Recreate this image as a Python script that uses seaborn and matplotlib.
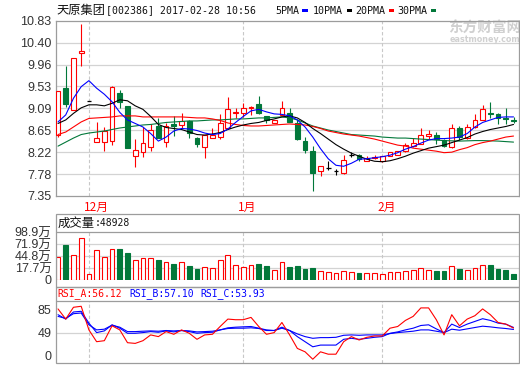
import matplotlib.pyplot as plt
import matplotlib.transforms as mtransforms
from matplotlib.lines import Line2D
from matplotlib.patches import Rectangle
import numpy as np
import seaborn as sns

sns.set_theme(style="white")
plt.rcParams['font.family'] = ['Liberation Sans', 'Noto Sans CJK SC', 'DejaVu Sans']

W, H = 520, 365

# daily candles (price, yuan)
opens = [8.56, 9.50, 9.05, 10.18, 9.24, 8.42, 8.42, 8.44, 9.39, 9.14,
         8.14, 8.22, 8.32, 8.74, 8.42, 8.78, 8.76, 8.84, 8.51, 8.32,
         8.51, 8.52, 8.69, 8.99, 9.00, 9.09, 9.17, 8.94, 8.80, 8.96,
         9.00, 8.79, 8.44, 8.24, 7.84, 7.91, 7.84, 7.81, 8.17, 8.16,
         8.04, 8.10, 8.04, 8.14, 8.17, 8.24, 8.34, 8.39, 8.55, 8.57,
         8.46, 8.32, 8.70, 8.50, 8.72, 8.86, 9.00, 8.97, 8.90, 8.86]
highs = [9.44, 9.94, 10.08, 10.76, 9.24, 8.81, 8.72, 9.53, 9.46, 9.14,
         8.49, 8.72, 8.77, 8.90, 8.79, 8.94, 9.00, 8.85, 8.52, 8.57,
         8.70, 8.98, 9.32, 9.10, 9.19, 9.13, 9.34, 8.94, 8.86, 9.24,
         9.10, 8.86, 8.52, 8.34, 7.95, 8.04, 7.89, 8.17, 8.22, 8.19,
         8.14, 8.17, 8.14, 8.22, 8.25, 8.40, 8.50, 8.69, 8.66, 8.62,
         8.49, 8.77, 8.74, 8.77, 8.97, 9.16, 9.22, 9.00, 9.09, 8.92]
lows = [8.52, 9.12, 9.05, 9.94, 9.24, 8.42, 8.24, 8.36, 9.09, 8.30,
        7.92, 8.12, 8.24, 8.50, 8.32, 8.54, 8.69, 8.51, 8.32, 8.10,
        8.50, 8.48, 8.68, 8.89, 8.92, 8.96, 8.97, 8.80, 8.80, 8.95,
        8.82, 8.46, 8.21, 7.44, 7.74, 7.86, 7.77, 7.79, 8.12, 8.04,
        8.04, 8.08, 8.03, 8.14, 8.17, 8.22, 8.33, 8.38, 8.48, 8.39,
        8.32, 8.31, 8.46, 8.49, 8.70, 8.85, 8.90, 8.77, 8.77, 8.79]
closes = [9.44, 9.17, 10.08, 10.22, 9.24, 8.51, 8.64, 9.52, 9.22, 8.30,
          8.26, 8.40, 8.66, 8.51, 8.74, 8.74, 8.84, 8.60, 8.39, 8.56,
          8.56, 8.79, 9.07, 9.02, 9.09, 9.12, 9.00, 8.86, 8.86, 9.09,
          8.82, 8.49, 8.27, 7.81, 7.94, 7.91, 7.84, 8.06, 8.17, 8.09,
          8.11, 8.13, 8.14, 8.22, 8.24, 8.36, 8.41, 8.57, 8.59, 8.48,
          8.34, 8.70, 8.52, 8.72, 8.86, 9.08, 8.98, 8.90, 8.87, 8.84]

# moving averages as drawn on the chart
ma5 = [8.82, 8.96, 9.29, 9.52, 9.64, 9.49, 9.37, 9.22, 9.01, 8.86,
       8.79, 8.72, 8.59, 8.44, 8.52, 8.64, 8.69, 8.68, 8.65, 8.60,
       8.57, 8.59, 8.68, 8.81, 8.93, 9.04, 9.07, 9.02, 8.98, 8.97,
       8.94, 8.86, 8.72, 8.52, 8.29, 8.09, 7.96, 7.94, 8.00, 8.08,
       8.09, 8.11, 8.13, 8.16, 8.21, 8.28, 8.33, 8.40, 8.46, 8.49,
       8.49, 8.50, 8.52, 8.59, 8.72, 8.81, 8.86, 8.91, 8.92, 8.92]
ma10 = [8.79, 8.86, 8.99, 9.10, 9.16, 9.16, 9.14, 9.19, 9.26, 9.24,
        9.14, 9.07, 8.93, 8.77, 8.71, 8.69, 8.67, 8.62, 8.57, 8.56,
        8.58, 8.61, 8.67, 8.72, 8.76, 8.79, 8.81, 8.85, 8.88, 8.92,
        8.94, 8.90, 8.81, 8.69, 8.59, 8.48, 8.37, 8.28, 8.20, 8.14,
        8.08, 8.04, 8.03, 8.05, 8.09, 8.14, 8.20, 8.25, 8.30, 8.33,
        8.36, 8.41, 8.46, 8.51, 8.58, 8.63, 8.67, 8.70, 8.73, 8.77]
ma20 = [8.57, 8.62, 8.72, 8.82, 8.89, 8.90, 8.91, 8.92, 8.94, 8.94,
        8.94, 8.92, 8.92, 8.92, 8.92, 8.92, 8.92, 8.91, 8.90, 8.90,
        8.88, 8.85, 8.80, 8.77, 8.75, 8.74, 8.74, 8.75, 8.76, 8.77,
        8.78, 8.77, 8.76, 8.73, 8.69, 8.64, 8.61, 8.58, 8.56, 8.54,
        8.51, 8.48, 8.44, 8.40, 8.36, 8.34, 8.30, 8.28, 8.26, 8.24,
        8.21, 8.22, 8.27, 8.31, 8.37, 8.41, 8.44, 8.48, 8.52, 8.54]
ma30 = [8.34, 8.42, 8.50, 8.57, 8.60, 8.62, 8.64, 8.67, 8.70, 8.72,
        8.74, 8.76, 8.77, 8.79, 8.81, 8.82, 8.83, 8.84, 8.84, 8.85,
        8.86, 8.86, 8.87, 8.88, 8.88, 8.89, 8.90, 8.90, 8.91, 8.92,
        8.90, 8.86, 8.80, 8.74, 8.70, 8.66, 8.63, 8.60, 8.57, 8.56,
        8.55, 8.54, 8.52, 8.51, 8.50, 8.50, 8.49, 8.48, 8.47, 8.46,
        8.45, 8.445, 8.44, 8.445, 8.45, 8.45, 8.445, 8.44, 8.43, 8.42]

# volume, 万
volumes = [41.8, 69.6, 47.0, 86.9, 4.1, 58.3, 41.8, 62.1, 60.5, 52.2,
           35.7, 40.9, 40.9, 35.7, 31.2, 26.7, 31.2, 22.2, 15.4, 19.3,
           17.7, 35.0, 47.0, 23.8, 19.3, 23.8, 26.7, 22.2, 13.2, 30.5,
           19.3, 22.2, 15.4, 17.7, 10.9, 9.3, 6.4, 10.9, 9.3, 6.4,
           6.4, 6.4, 3.5, 9.3, 9.3, 10.9, 12.5, 17.0, 13.2, 10.9,
           10.9, 21.5, 15.4, 13.2, 17.0, 23.8, 24.4, 15.4, 13.2, 4.9]

rsi_a = [86.6, 70.4, 89.2, 90.8, 53.2, 34.4, 36.0, 59.7, 53.2, 32.8,
         31.7, 36.0, 45.2, 42.5, 50.5, 46.2, 53.2, 47.8, 38.2, 45.2,
         46.2, 58.6, 70.4, 69.4, 69.4, 73.1, 58.6, 46.2, 48.9, 65.0,
         45.2, 23.7, 18.3, 6.5, 18.3, 14.5, 14.5, 34.4, 42.5, 37.1,
         41.4, 43.5, 43.5, 55.9, 58.6, 68.3, 74.7, 88.2, 88.2, 69.4,
         45.2, 77.4, 59.7, 70.4, 75.8, 86.6, 77.4, 65.0, 62.4, 56.1]
rsi_b = [77.4, 70.4, 81.7, 82.8, 64.0, 48.9, 51.6, 61.3, 55.9, 47.8,
         47.8, 48.9, 50.5, 49.4, 51.6, 50.0, 52.2, 50.5, 47.8, 48.9,
         49.4, 53.2, 56.5, 57.5, 58.1, 58.6, 55.9, 53.2, 52.2, 57.5,
         52.2, 42.5, 34.4, 26.3, 29.0, 29.0, 29.0, 38.2, 39.8, 38.2,
         39.8, 41.4, 42.5, 47.8, 50.0, 53.2, 55.9, 60.2, 61.3, 54.8,
         48.9, 62.4, 57.0, 62.4, 66.7, 71.0, 68.3, 64.0, 62.4, 57.1]
rsi_c = [74.7, 71.5, 79.0, 80.1, 61.3, 53.2, 54.3, 60.7, 57.5, 50.5,
         50.5, 51.1, 51.6, 51.1, 52.2, 51.6, 52.2, 51.6, 50.0, 50.5,
         51.1, 53.2, 55.4, 55.9, 55.9, 56.5, 55.4, 52.2, 52.2, 55.9,
         52.2, 46.8, 42.5, 39.8, 40.9, 40.9, 41.4, 44.6, 45.2, 44.6,
         45.2, 45.2, 45.2, 47.3, 48.9, 50.0, 51.1, 53.2, 53.2, 51.1,
         48.9, 54.3, 52.7, 54.8, 57.0, 59.1, 58.0, 56.5, 55.4, 53.9]

month_starts = [4, 24, 42]
month_names = ['12月', '1月', '2月']

price_ticks = [7.35, 7.785, 8.22, 8.655, 9.09, 9.525, 9.96, 10.395, 10.83]
price_labels = ['7.35', '7.78', '8.22', '8.65', '9.09', '9.53', '9.96', '10.40', '10.83']
vol_ticks = [-9.4, 17.7, 44.8, 71.9, 98.9]
vol_labels = ['0', '17.7万', '44.8万', '71.9万', '98.9万']
rsi_ticks = [0, 49, 85]

RED = '#ff0000'
GREEN = '#02783a'
BLUE = '#0000ff'
GRID = '#d3d3d3'
FRAME = '#9c9c9c'
TXT = '#333333'
MONO = ['DejaVu Sans Mono', 'Noto Sans CJK SC']
CJK = ['Noto Sans CJK SC', 'DejaVu Sans']


def rect(l, t, r, b):
    return [l / W, 1 - b / H, (r - l) / W, (b - t) / H]


def fx(px):
    return px / W


def fy(py):
    return 1 - py / H


x = np.arange(len(closes))
o = np.array(opens)
c = np.array(closes)
hi = np.array(highs)
lo = np.array(lows)
up = c > o
dn = c < o
flat = c == o
XLIM = (-0.3, 59.75)
BW = 0.62

fig = plt.figure(figsize=(W / 100, H / 100), dpi=100)
fig.patch.set_facecolor('white')


def style_axis(a):
    a.set_xlim(*XLIM)
    a.set_xticks([])
    a.set_xlabel('')
    a.set_ylabel('')
    a.tick_params(axis='y', length=0, pad=3, labelsize=9, labelcolor=TXT)
    a.set_facecolor('white')
    for v in month_starts:
        a.axvline(v, color='#c8c8c8', lw=0.8, ls=(0, (3, 2)), zorder=1)


# ---- main price panel ----
ax = fig.add_axes(rect(55.7, 20.7, 519.3, 196))
style_axis(ax)
ax.set_ylim(7.35, 10.83)
ax.set_yticks(price_ticks)
ax.set_yticklabels(price_labels)
for t in price_ticks[1:-1]:
    ax.axhline(t, color=GRID, lw=0.9, zorder=0.5)
for s in ax.spines.values():
    s.set_color(FRAME)
    s.set_linewidth(0.9)

# watermark (behind the candles)
ax.text(0.925, 0.958, '东方财富网', transform=ax.transAxes, ha='center', va='center',
        color='#d0d0d0', fontsize=10.5, fontweight='bold', family=CJK, zorder=0.8)
ax.text(0.925, 0.89, 'eastmoney.com', transform=ax.transAxes, ha='center', va='center',
        color='#d0d0d0', fontsize=5.8, fontweight='bold', family=['DejaVu Sans'], zorder=0.8)

colors = np.where(up, RED, np.where(dn, GREEN, 'black'))
ax.vlines(x, lo, hi, colors=colors, linewidth=0.8, zorder=2)
body_bot = np.minimum(o, c)
body_h = np.abs(c - o)
ax.bar(x[up], body_h[up], bottom=body_bot[up], width=BW, facecolor='white',
       edgecolor=RED, linewidth=0.8, zorder=3)
ax.bar(x[dn], body_h[dn], bottom=body_bot[dn], width=BW, facecolor=GREEN,
       edgecolor=GREEN, linewidth=0.8, zorder=3)
ax.hlines(c[flat], x[flat] - BW / 2, x[flat] + BW / 2, colors='black',
          linewidth=0.9, zorder=3)

for series, col in [(ma30, GREEN), (ma20, RED), (ma10, 'black'), (ma5, BLUE)]:
    sns.lineplot(x=x, y=series, ax=ax, color=col, linewidth=0.8, legend=False, zorder=4)
ax.set_xlim(*XLIM)
ax.set_xlabel('')
ax.set_ylabel('')

# month labels under the main panel
trans = mtransforms.blended_transform_factory(ax.transData, ax.transAxes)
for v, name in zip(month_starts, month_names):
    ax.text(v - 0.65, -(207 - 196) / (196 - 20.7), name, transform=trans,
            ha='left', va='center', color=RED, fontsize=8.5, family=CJK)

# ---- volume panel ----
axv = fig.add_axes(rect(55.7, 232.3, 519.3, 280))
style_axis(axv)
vol = np.array(volumes)
vbase = vol_ticks[0]
vup = c >= o
axv.bar(x[vup], vol[vup] - vbase, bottom=vbase, width=BW, facecolor='white',
        edgecolor=RED, linewidth=0.8, zorder=3)
axv.bar(x[~vup], vol[~vup] - vbase, bottom=vbase, width=BW, facecolor=GREEN,
        edgecolor=GREEN, linewidth=0.8, zorder=3)
axv.set_ylim(vbase, vol_ticks[-1])
axv.set_yticks(vol_ticks)
axv.set_yticklabels(vol_labels)
for t in vol_ticks[1:-1]:
    axv.axhline(t, color=GRID, lw=0.9, zorder=0.5)
for s in axv.spines.values():
    s.set_visible(False)

# ---- RSI panel ----
axr = fig.add_axes(rect(55.7, 300.5, 519.3, 363.3))
style_axis(axr)
axr.set_ylim(0, 100)
axr.set_yticks(rsi_ticks)
axr.set_yticklabels([str(t) for t in rsi_ticks])
axr.yaxis.get_major_ticks()[0].label1.set_verticalalignment('bottom')
axr.axhline(49, color=GRID, lw=0.9, zorder=0.5)
for series, col in [(rsi_c, BLUE), (rsi_b, BLUE), (rsi_a, RED)]:
    sns.lineplot(x=x, y=series, ax=axr, color=col, linewidth=0.8, legend=False, zorder=4)
axr.set_xlim(*XLIM)
axr.set_xlabel('')
axr.set_ylabel('')
for s in axr.spines.values():
    s.set_visible(False)

# panel frames and header separators
for top, sep, bot in [(214, 232.3, 287.3), (287.3, 300.5, 363.3)]:
    fig.add_artist(Rectangle((fx(55.7), fy(bot)), fx(519.3) - fx(55.7), fy(top) - fy(bot),
                             transform=fig.transFigure, fill=False, edgecolor=FRAME, lw=0.9))
    fig.add_artist(Line2D([fx(55.7), fx(519.3)], [fy(sep), fy(sep)], color=FRAME, lw=0.9))

# ---- header texts ----
fig.text(fx(56), fy(10.5), '天原集团', ha='left', va='center', fontsize=8.8, family=CJK, color='#111111')
fig.text(fx(106), fy(10.5), '[002386] 2017-02-28 10:56', ha='left', va='center',
         fontsize=7.1, family=MONO, color='#111111')

legend_items = [('5PMA', 275, BLUE), ('10PMA', 313, 'black'), ('20PMA', 355, RED), ('30PMA', 397, GREEN)]
for label, px, col in legend_items:
    fig.text(fx(px), fy(10.5), label, ha='left', va='center', fontsize=7.2, family=MONO, color='#111111')
    sq_x = px + len(label) * 6.1 + 3
    fig.add_artist(Rectangle((fx(sq_x), fy(12.3)), 5.5 / W, 3 / H, transform=fig.transFigure,
                             facecolor=col, edgecolor='none'))

fig.text(fx(57.5), fy(223), '成交量', ha='left', va='center', fontsize=8.9, family=CJK, color='#111111')
fig.text(fx(94.5), fy(223), ':48928', ha='left', va='center', fontsize=7.0, family=MONO, color='#111111')

for label, px, col in [('RSI_A:56.12', 57.3, RED), ('RSI_B:57.10', 129.3, BLUE), ('RSI_C:53.93', 200.5, BLUE)]:
    fig.text(fx(px), fy(294), label, ha='left', va='center', fontsize=7.0, family=MONO, color=col)

fig.savefig('out.png', dpi=100, facecolor='white')
